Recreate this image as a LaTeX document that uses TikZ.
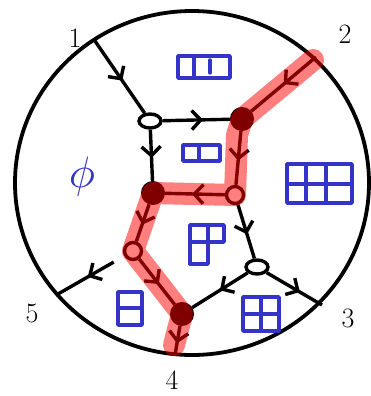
\documentclass[tikz,border=0pt]{standalone}
\usepackage{graphicx}
\usetikzlibrary{arrows.meta,decorations.markings,shapes.geometric}
\definecolor{yblue}{RGB}{52,52,200}
\begin{document}
\begin{tikzpicture}[x=1pt,y=-1pt,
  flow/.style={line width=3.4pt, postaction={decorate}, decoration={markings,
    mark=at position #1 with {\arrow{Straight Barb[length=9pt,width=19pt,line width=3.4pt]}}}},
  flow/.default=0.55,
  openell/.style={draw, line width=3.4pt, ellipse, minimum width=22pt, minimum height=14pt, inner sep=0pt, fill=white},
  opencirc/.style={draw, line width=3.4pt, circle, minimum size=17pt, inner sep=0pt, fill=white},
  dotnode/.style={draw, line width=2pt, circle, fill=black, minimum size=22pt, inner sep=0pt},
  num/.style={font=\fontsize{28}{28}\selectfont, inner sep=0pt},
  yd/.style={draw=yblue, line width=3.4pt, line cap=round, line join=round},
  hl/.style={draw=red, opacity=0.5, line width=22pt, line cap=round, line join=round}]
\useasboundingbox (0,0) rectangle (370,396);

% outer circle
\draw[line width=3.8pt] (192,183) ellipse [x radius=177pt, y radius=172pt];

% boundary points
\coordinate (P1) at (95,41);
\coordinate (P2) at (316,57);
\coordinate (P3) at (322,305);
\coordinate (P4) at (175,355);
\coordinate (P5) at (58,294);

% nodes
\node[openell]  (A) at (150,121) {};
\node[dotnode]  (B) at (242,119) {};
\node[dotnode]  (C) at (153,193) {};
\node[opencirc] (D) at (235,195) {};
\node[opencirc] (E) at (133,251) {};
\node[openell]  (F) at (257,267) {};
\node[dotnode]  (G) at (182,314) {};

% edges
\draw[flow] (P1) -- (A);
\draw[flow=0.6] (A) -- (B);
\draw[flow] (A) -- (C);
\draw[flow] (B) -- (D);
\draw[flow] (D) -- (C);
\draw[flow=0.5] (P2) -- (B);
\draw[flow] (C) -- (E);
\draw[flow] (E) -- (G);
\draw[flow] (D) -- (F);
\draw[flow=0.5] (F) -- (G);
\draw[flow=0.6] (F) -- (P3);
\draw[flow=0.6] (G) -- (P4);
\draw[flow, shorten <=12pt] (E) -- (P5);

% labels
\node[num] (n1) at (75,38) {1};
\node[num] (n2) at (345,34) {2};
\node[num] (n3) at (348,318) {3};
\node[num] (n4) at (172,380) {4};
\node[num] (n5) at (32,313) {5};

% blue Young diagrams
\node[text=yblue, inner sep=0pt] (phi) at (82,176) {\scalebox{4.4}{$\phi$}};
% top: 3 boxes
\draw[yd] (178,56) rectangle (230,78);
\draw[yd] (194,56) -- (194,78);
\draw[yd] (210,60) -- (210,73);
% middle: 2 boxes
\draw[yd] (183,145) rectangle (220,161);
\draw[yd] (199,145) -- (199,161);
% right: 3x2
\draw[yd] (287,164) rectangle (352,203);
\draw[yd] (287,184) -- (352,184);
\draw[yd] (306,164) -- (306,203);
\draw[yd] (326,164) -- (326,203);
% (2,1)
\draw[yd] (190,264) -- (190,225) -- (224,225) -- (224,242) -- (190,242);
\draw[yd] (208,225) -- (208,264) -- (190,264);
% column of 2
\draw[yd] (118,292) rectangle (142,325);
\draw[yd] (118,308) -- (142,308);
% 2x2
\draw[yd] (243,297) rectangle (279,331);
\draw[yd] (261,297) -- (261,331);
\draw[yd] (243,314) -- (279,314);

% red highlighted path
\coordinate (H1) at (313,60);
\coordinate (H2) at (174,345);
\draw[hl] (H1) -- (B.center) -- (237,135) -- (D.center) -- (C.center) -- (E.center) -- (G.center) -- (H2);
\end{tikzpicture}
\end{document}
